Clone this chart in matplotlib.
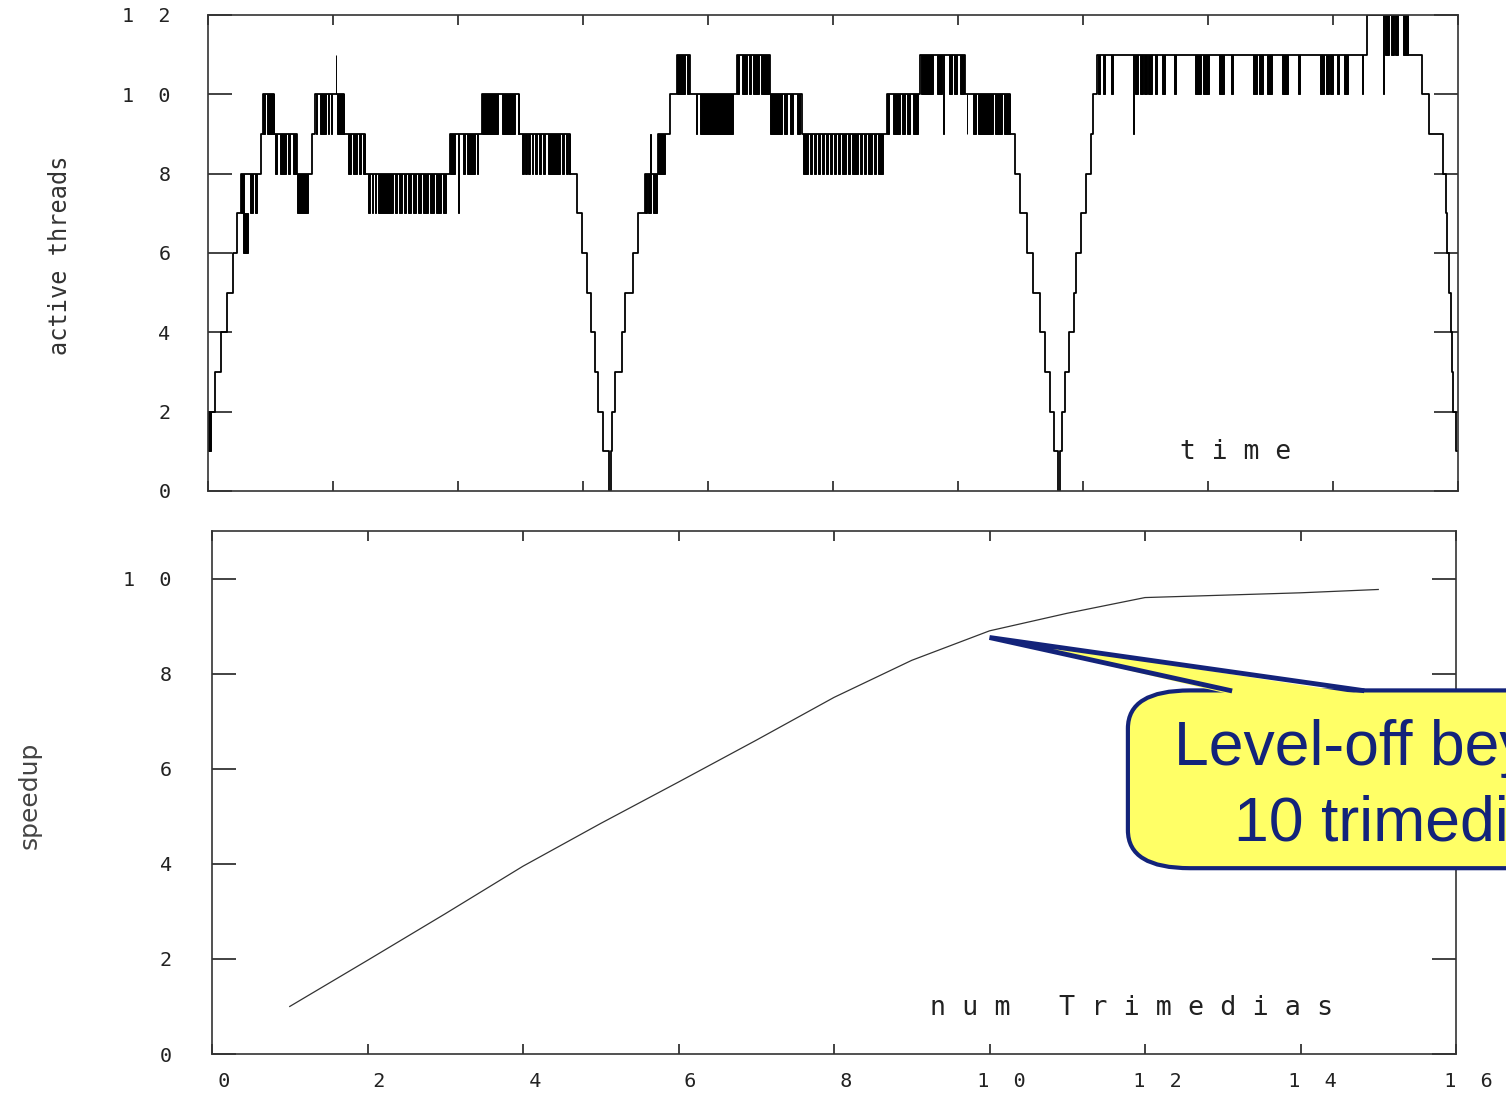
import matplotlib
matplotlib.use("Agg")
import matplotlib.pyplot as plt
from matplotlib.patches import FancyBboxPatch, Polygon

# ---- top panel: active threads over time (time in ms, axis has no labels) ----
env_t = [0, 7, 12.7, 19.3, 24.7, 28.7, 32.7, 52.7, 55.3, 66, 88.7, 103.7, 107, 136, 157,
         242, 273.7, 311, 362, 368.7, 373.7, 378.7, 382.7, 387, 389.7, 394.7, 401.3, 402.5,
         403.7, 407, 413.7, 417, 425.3, 430.3, 437, 450.3, 462, 468.7, 482, 528.7, 562,
         593.7, 678.7, 712, 757, 802, 807, 812, 818.7, 825.3, 832, 837, 842, 846, 850.3,
         851.5, 853.7, 857, 861, 865.7, 867.5, 872.5, 878, 882.7, 885.3, 888.7, 1158.7,
         1200.3, 1213.7, 1221.3, 1235.3, 1238, 1239.3, 1241, 1242.5, 1243.5, 1245, 1248, 1250]
env_v = [2, 3, 4, 5, 6, 7, 8, 9, 10, 9, 8, 9, 10, 9, 8,
         9, 10, 9, 8, 7, 6, 5, 4, 3, 2, 1, 0, 1,
         2, 3, 4, 5, 6, 7, 8, 9, 10, 11, 10, 11, 10,
         9, 10, 11, 10, 9, 8, 7, 6, 5, 4, 3, 2, 1, 0,
         1, 2, 3, 4, 5, 6, 7, 8, 9, 10, 11, 12,
         11, 10, 9, 8, 7, 6, 5, 4, 3, 2, 1, 1]

# flicker bursts: (start, end) for toggling between level n and n+1
bars_1 = [(0, 3)]
bars_6 = [(35.3, 40.3)]
bars_7 = [(32.7, 36), (42, 44.7), (47, 49.3), (88.7, 100.3), (160.3, 162), (163.7, 165.3),
          (167, 168), (170, 185.3), (187, 189), (191, 194), (196, 198), (200, 203), (205, 208),
          (210, 213), (215, 220), (222, 226), (228, 233), (235, 238), (250.3, 251),
          (437, 439), (440, 443), (445, 448.7)]
bars_8 = [(67, 68.7), (72, 78), (80.3, 82), (85.3, 88), (140.3, 142.7), (145.3, 148.7),
          (151.3, 152.7), (154.7, 157), (242, 247), (250.3, 251), (255.3, 257), (258.7, 267),
          (268.7, 270.3), (314, 315.5), (317, 318.5), (320, 322), (323.5, 325), (327, 329),
          (331, 333), (335, 337), (340, 352), (354, 356), (358, 359.5), (361, 362),
          (442, 442.6), (450.3, 457), (595.3, 600.3), (602, 604), (606, 608), (610, 612),
          (614, 616), (618, 620), (622, 624), (626, 628), (630, 632), (634, 638), (640, 642),
          (644, 650), (652, 654), (656, 658), (660, 664), (666, 668), (670, 675.3)]
bars_9 = [(55.3, 57), (58.7, 66), (108, 109.3), (112, 118), (119.7, 121.3), (123, 124),
          (128.7, 136), (273.7, 290.3), (293.7, 307), (310, 311), (488, 489.3), (492, 525.3),
          (562, 573.7), (576.3, 578.7), (582, 585.3), (588.7, 592), (679.3, 681.3),
          (685.3, 692), (693.7, 697), (698.7, 702), (705.3, 710.3), (735.3, 736),
          (758.7, 759.3), (765.3, 768), (770, 785), (787, 794), (796, 802), (925.3, 926)]
bars_10 = [(127.5, 128.2), (468.7, 477), (479.3, 481.3), (528.7, 531.3), (533.7, 538.7),
           (541, 542.7), (545.3, 551.3), (553, 561.3), (713, 725.3), (728.7, 733.7),
           (735.3, 736), (741.3, 743.7), (746.3, 748.7), (752, 756), (890.3, 892), (895.3, 897),
           (902.7, 904.7), (925.3, 926), (927, 930), (931.5, 935), (936, 938.7), (940.3, 943.7),
           (947, 948.7), (953.7, 957), (966, 968), (987, 993), (994.5, 1001.3), (1011.3, 1016),
           (1022.7, 1025.3), (1044.7, 1049), (1050.5, 1055.3), (1058.7, 1063.7),
           (1073.7, 1080.3), (1090.3, 1092), (1112, 1116), (1117.5, 1121), (1122, 1125.3),
           (1128.7, 1131.3), (1136, 1140.3), (1153.7, 1155.3), (1175.3, 1176)]
bars_11 = [(1175.3, 1176), (1177, 1181), (1182.5, 1186), (1187, 1190.3), (1195.3, 1200)]
flicker = {1: bars_1, 6: bars_6, 7: bars_7, 8: bars_8, 9: bars_9, 10: bars_10, 11: bars_11}

# ---- bottom panel: speedup vs number of Trimedias ----
n_trimedia = [1, 2, 3, 4, 5, 6, 7, 8, 9, 10, 11, 12, 13, 14, 15]
speedup = [1.0, 1.97, 2.95, 3.95, 4.85, 5.72, 6.6, 7.5, 8.28, 8.9, 9.27, 9.6, 9.65, 9.7, 9.77]

top_yticks = [0, 2, 4, 6, 8, 10, 12]
bot_xticks = [0, 2, 4, 6, 8, 10, 12, 14, 16]
bot_yticks = [0, 2, 4, 6, 8, 10]

INK = "#222222"
NAVY = "#13237A"
YELLOW = "#FFFF66"
MONO = "DejaVu Sans Mono"


def spaced(v, lead=""):
    return lead + "  ".join(str(v))


fig = plt.figure(figsize=(15.06, 10.96), dpi=100)
ax1 = fig.add_axes([208 / 1506, 1 - 491 / 1096, 1250 / 1506, 476 / 1096])
ax2 = fig.add_axes([212 / 1506, 1 - 1054 / 1096, 1244 / 1506, 523 / 1096])

# top panel
ax1.step(env_t, env_v, where="post", color="black", lw=1.3)
for lo, spans in flicker.items():
    ax1.bar([a for a, b in spans], 1, width=[b - a for a, b in spans], bottom=lo,
            align="edge", color="black", edgecolor="black", linewidth=0.7)
ax1.set_xlim(0, 1250)
ax1.set_ylim(0, 12)
ax1.set_xticks(range(0, 1251, 125))
ax1.set_xticklabels([])
ax1.set_yticks(top_yticks)
ax1.set_yticklabels([spaced(v) for v in top_yticks])
ax1.tick_params(axis="y", pad=27)
ax1.text(0.778, 0.082, " ".join("time"), transform=ax1.transAxes, ha="left", va="center",
         family=MONO, fontsize=19, color=INK)

# bottom panel
ax2.plot(n_trimedia, speedup, color="#333333", lw=0.9)
ax2.set_xlim(0, 16)
ax2.set_ylim(0, 11)
ax2.set_xticks(bot_xticks)
ax2.set_xticklabels([spaced(v, "  ") for v in bot_xticks])
ax2.set_yticks(bot_yticks)
ax2.set_yticklabels([spaced(v) for v in bot_yticks])
ax2.tick_params(axis="y", pad=29)
ax2.tick_params(axis="x", pad=13)
ax2.text(0.577, 0.088, " ".join("num Trimedias"), transform=ax2.transAxes, ha="left",
         va="center", family=MONO, fontsize=19.3, color=INK)

for ax in (ax1, ax2):
    ax.tick_params(direction="in", top=True, right=True, colors=INK, labelsize=14.5)
    ax.tick_params(axis="x", length=7, width=1.2)
    ax.tick_params(axis="y", length=17, width=1.2)
    for lab in ax.get_xticklabels() + ax.get_yticklabels():
        lab.set_family(MONO)
    for sp in ax.spines.values():
        sp.set_color("#333333")
        sp.set_linewidth(1.2)

fig.text(60 / 1506, 1 - 255 / 1096, "active threads", rotation=90, ha="center", va="center",
         family=MONO, fontsize=17, color="#333333")
fig.text(30 / 1506, 1 - 795 / 1096, "speedup", rotation=90, ha="center", va="center",
         family="DejaVu Sans", fontsize=18, color="#444444")

# callout pointing at the knee at 10 Trimedias (it runs off the right edge, as in the source)
tip = (10, 8.76)
box_x, box_top, box_bot = 11.78, 7.647, 3.908
base_l, base_r = 13.09, 14.79
box = FancyBboxPatch((box_x, box_bot), 9, box_top - box_bot,
                     boxstyle="round,pad=0,rounding_size=0.8", fc=YELLOW, ec=NAVY, lw=3,
                     clip_on=False, zorder=6)
ax2.add_patch(box)
ax2.add_patch(Polygon([tip, (base_l, box_top - 0.08), (base_r, box_top - 0.08)], closed=True,
                      fc=YELLOW, ec="none", clip_on=False, zorder=7))
ax2.plot([base_l, tip[0], base_r], [box_top, tip[1], box_top], color=NAVY, lw=3.5,
         solid_joinstyle="miter", clip_on=False, zorder=8)
ax2.text(15.34, 6.07, "Level-off beyond", ha="center", va="baseline", fontsize=45,
         family="Liberation Sans", color=NAVY, clip_on=False, zorder=9)
ax2.text(15.34, 4.50, "10 trimedias", ha="center", va="baseline", fontsize=45,
         family="Liberation Sans", color=NAVY, clip_on=False, zorder=9)

fig.savefig("out.png", dpi=100)
